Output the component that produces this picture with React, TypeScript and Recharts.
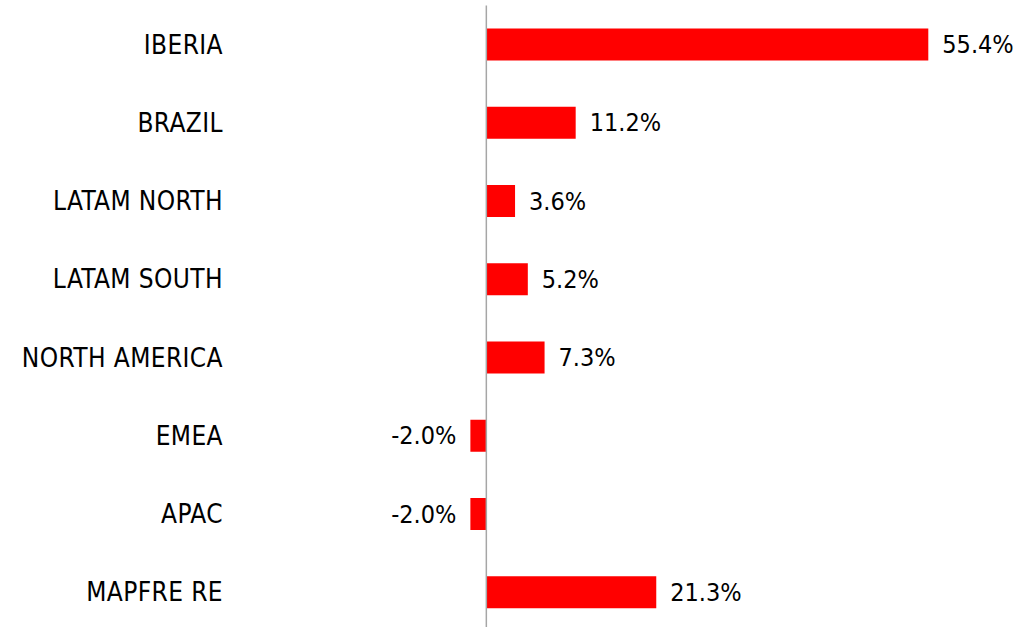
import React from 'react';
import { BarChart, Bar, XAxis, YAxis, ReferenceLine, LabelList } from 'recharts';

const categories = ['IBERIA', 'BRAZIL', 'LATAM NORTH', 'LATAM SOUTH', 'NORTH AMERICA', 'EMEA', 'APAC', 'MAPFRE RE'];
const values = [55.4, 11.2, 3.6, 5.2, 7.3, -2.0, -2.0, 21.3];
const xDomain = [-30, 60];

const data = categories.map((name, i) => ({ name, value: values[i] }));

const FONT = '"DejaVu Sans Condensed", "DejaVu Sans", sans-serif';
const FONT_SIZE = 25;

const ValueLabel = (props: any) => {
  const { x, y, width, height, value } = props;
  const offset = 14;
  const left = Math.min(x, x + width);
  const right = Math.max(x, x + width);
  const pos = value >= 0;
  return (
    <text
      x={pos ? right + offset : left - offset}
      y={y + height / 2}
      textAnchor={pos ? 'start' : 'end'}
      dominantBaseline="central"
      fontFamily={FONT}
      fontSize={FONT_SIZE}
      fill="#000"
    >
      {Number(value).toFixed(1) + '%'}
    </text>
  );
};

const CatTick = (props: any) => {
  const { x, y, payload } = props;
  return (
    <text
      x={x}
      y={y}
      textAnchor="end"
      dominantBaseline="central"
      fontFamily={FONT}
      fontSize={26}
      letterSpacing={0.4}
      fill="#000"
    >
      {payload.value}
    </text>
  );
};

export default function App() {
  return (
    <div style={{ position: 'absolute', left: 0, top: 0, width: 1031, height: 627, overflow: 'hidden', background: '#fff' }}>
      <BarChart
        width={1031}
        height={632}
        data={data}
        layout="vertical"
        margin={{ top: 5.5, right: 66, bottom: 0.5, left: 0 }}
      >
        <XAxis type="number" domain={xDomain} hide allowDataOverflow />
        <YAxis
          type="category"
          dataKey="name"
          width={247}
          axisLine={false}
          tickLine={false}
          tickSize={0}
          tickMargin={24}
          tick={<CatTick />}
          interval={0}
        />
        <Bar dataKey="value" fill="#FF0000" barSize={32} isAnimationActive={false}>
          <LabelList dataKey="value" content={<ValueLabel />} />
        </Bar>
        <ReferenceLine x={0} stroke="#A6A6A6" strokeWidth={1.5} />
      </BarChart>
    </div>
  );
}
